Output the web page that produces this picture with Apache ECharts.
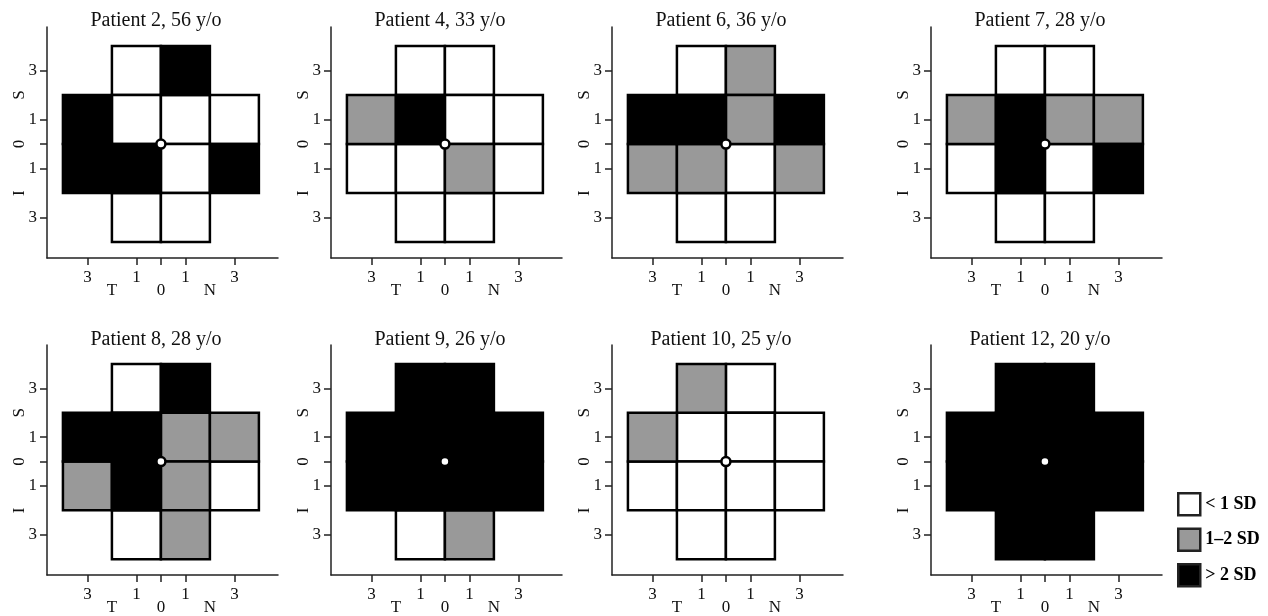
<!DOCTYPE html>
<html>
<head>
<meta charset="utf-8">
<script src="https://cdn.jsdelivr.net/npm/echarts@6/dist/echarts.min.js"></script>
<style>
  html, body { margin: 0; padding: 0; background: #fff; }
  #chart { width: 1268px; height: 616px; }
</style>
</head>
<body>
<div id="chart"></div>
<script>
// ---------------- Data ----------------
// Patients (panel titles)
const PATIENTS = ['Patient 2, 56 y/o', 'Patient 4, 33 y/o', 'Patient 6, 36 y/o', 'Patient 7, 28 y/o',
                  'Patient 8, 28 y/o', 'Patient 9, 26 y/o', 'Patient 10, 25 y/o', 'Patient 12, 20 y/o'];
// Cell centres (degrees): top row, upper middle row, lower middle row, bottom row
const CELL_X = [-1, 1, -3, -1, 1, 3, -3, -1, 1, 3, -1, 1];
const CELL_Y = [ 3, 3,  1,  1, 1, 1, -1, -1, -1, -1, -3, -3];
// Deviation class for each cell: 0 = < 1 SD, 1 = 1–2 SD, 2 = > 2 SD
const P2  = [0, 2, 2, 0, 0, 0, 2, 2, 0, 2, 0, 0];
const P4  = [0, 0, 1, 2, 0, 0, 0, 0, 1, 0, 0, 0];
const P6  = [0, 1, 2, 2, 1, 2, 1, 1, 0, 1, 0, 0];
const P7  = [0, 0, 1, 2, 1, 1, 0, 2, 0, 2, 0, 0];
const P8  = [0, 2, 2, 2, 1, 1, 1, 2, 1, 0, 0, 1];
const P9  = [2, 2, 2, 2, 2, 2, 2, 2, 2, 2, 0, 1];
const P10 = [1, 0, 1, 0, 0, 0, 0, 0, 0, 0, 0, 0];
const P12 = [2, 2, 2, 2, 2, 2, 2, 2, 2, 2, 2, 2];
const PANEL_VALUES = [P2, P4, P6, P7, P8, P9, P10, P12];
const CLASS_NAMES = ['< 1 SD', '1–2 SD', '> 2 SD'];
// Fovea position
const FOVEA = [0, 0];
// Axis ticks and labels
const TICK_VALUES = [-3, -1, 0, 1, 3];
const LABEL_VALUES = [-3, -1, 1, 3];
const LABEL_TEXT = ['3', '1', '1', '3'];
const DIR_VALUES = [-2, 0, 2];
const X_DIR_TEXT = ['T', '0', 'N'];
const Y_DIR_TEXT = ['I', '0', 'S'];

// ---------------- Style / layout ----------------
const CLASS_COLORS = ['#ffffff', '#999999', '#000000'];
const FONT = '"Liberation Serif", "Times New Roman", serif';
const AX_MIN = -4.65, AX_MAX = 4.78;
const CELL_HALF = 1;
const COL_LEFT = [47, 331, 612, 931];
const ROW_TOP = [27, 345];
const TITLE_TOP = [6, 325];
const GRID_SIZE = 231;
const AXIS_COLOR = '#222';
const LABEL_SIZE = 17;

const grids = [], xAxes = [], yAxes = [], titles = [], series = [];

PANEL_VALUES.forEach((vals, p) => {
  const col = p % 4, row = Math.floor(p / 4);
  grids.push({ left: COL_LEFT[col], top: ROW_TOP[row], width: GRID_SIZE, height: GRID_SIZE });
  titles.push({
    text: PATIENTS[p],
    left: COL_LEFT[col] + 104, top: TITLE_TOP[row], textAlign: 'center',
    textStyle: { fontFamily: FONT, fontSize: 20, fontWeight: 'normal', color: '#111' }
  });
  const axBase = {
    type: 'value', gridIndex: p, min: AX_MIN, max: AX_MAX,
    splitLine: { show: false }
  };
  // main x axis
  xAxes.push(Object.assign({}, axBase, {
    position: 'bottom',
    axisLine: { show: true, onZero: false, lineStyle: { color: AXIS_COLOR, width: 1.5 } },
    axisTick: { show: true, customValues: TICK_VALUES, length: 7, lineStyle: { color: AXIS_COLOR, width: 1.5 } },
    axisLabel: {
      customValues: LABEL_VALUES, margin: 11,
      formatter: v => LABEL_TEXT[LABEL_VALUES.indexOf(v)],
      fontFamily: FONT, fontSize: LABEL_SIZE, color: '#111'
    }
  }));
  // direction x axis (T / 0 / N)
  xAxes.push(Object.assign({}, axBase, {
    position: 'bottom',
    axisLine: { show: false, onZero: false },
    axisTick: { show: false },
    axisLabel: {
      customValues: DIR_VALUES, margin: 24,
      formatter: v => X_DIR_TEXT[DIR_VALUES.indexOf(v)],
      fontFamily: FONT, fontSize: LABEL_SIZE, color: '#111'
    }
  }));
  // main y axis
  yAxes.push(Object.assign({}, axBase, {
    position: 'left',
    axisLine: { show: true, onZero: false, lineStyle: { color: AXIS_COLOR, width: 1.5 } },
    axisTick: { show: true, customValues: TICK_VALUES, length: 7, lineStyle: { color: AXIS_COLOR, width: 1.5 } },
    axisLabel: {
      customValues: LABEL_VALUES, margin: 10,
      formatter: v => LABEL_TEXT[LABEL_VALUES.indexOf(v)],
      fontFamily: FONT, fontSize: LABEL_SIZE, color: '#111'
    }
  }));
  // direction y axis (I / 0 / S), rotated
  yAxes.push(Object.assign({}, axBase, {
    position: 'left',
    axisLine: { show: false, onZero: false },
    axisTick: { show: false },
    axisLabel: {
      customValues: DIR_VALUES, margin: 19, rotate: 90,
      formatter: v => Y_DIR_TEXT[DIR_VALUES.indexOf(v)],
      fontFamily: FONT, fontSize: LABEL_SIZE, color: '#111'
    }
  }));

  // cells, one series per class so the legend picks them up
  CLASS_NAMES.forEach((name, c) => {
    const data = [];
    vals.forEach((v, i) => { if (v === c) data.push([CELL_X[i], CELL_Y[i], v]); });
    series.push({
      type: 'custom', name: name,
      xAxisIndex: p * 2, yAxisIndex: p * 2,
      coordinateSystem: 'cartesian2d',
      itemStyle: { color: CLASS_COLORS[c] },
      silent: true, z: 2,
      data: data,
      renderItem: function (params, api) {
        const x = api.value(0), y = api.value(1), k = api.value(2);
        const a = api.coord([x - CELL_HALF, y + CELL_HALF]);
        const b = api.coord([x + CELL_HALF, y - CELL_HALF]);
        return {
          type: 'rect',
          shape: { x: a[0], y: a[1], width: b[0] - a[0], height: b[1] - a[1] },
          style: { fill: CLASS_COLORS[k], stroke: '#000', lineWidth: 2.5 }
        };
      }
    });
  });
  // fovea marker
  series.push({
    type: 'scatter',
    xAxisIndex: p * 2, yAxisIndex: p * 2,
    symbol: 'circle', symbolSize: 9, z: 5, silent: true,
    itemStyle: { color: '#fff', borderColor: '#000', borderWidth: 2.5, opacity: 1 },
    data: [FOVEA]
  });
});

const chart = echarts.init(document.getElementById('chart'), null, { renderer: 'canvas' });
chart.setOption({
  backgroundColor: '#fff',
  animation: false,
  title: titles,
  grid: grids,
  xAxis: xAxes,
  yAxis: yAxes,
  legend: {
    data: CLASS_NAMES.map(n => ({ name: n, icon: 'rect' })),
    orient: 'vertical',
    left: 1172, top: 487,
    itemWidth: 22, itemHeight: 22, itemGap: 11,
    selectedMode: false,
    itemStyle: { borderColor: '#222', borderWidth: 2.5 },
    textStyle: { fontFamily: FONT, fontSize: 18, fontWeight: 'bold', color: '#000' }
  },
  series: series
});
</script>
</body>
</html>
